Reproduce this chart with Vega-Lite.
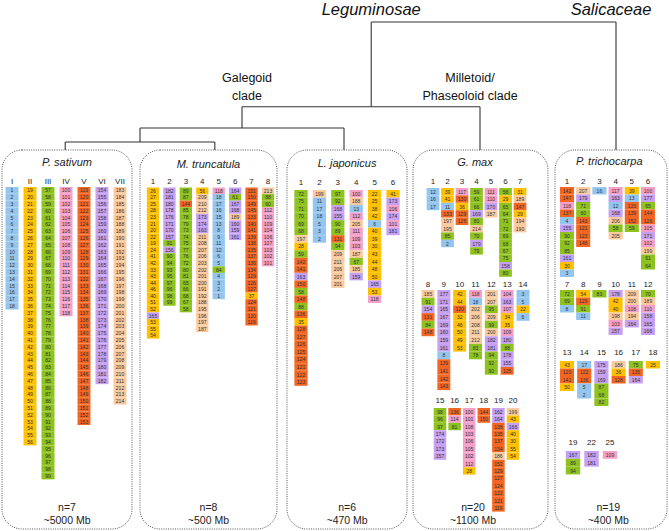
{
"$schema":"https://vega.github.io/schema/vega-lite/v6.json",
"width":669,"height":531,"autosize":{"type":"none"},"padding":0,
"background":"white",
"config":{"view":{"stroke":null},"text":{"font":"Liberation Sans","color":"#222"}},
"datasets":{
"tree":[
{"x":3.2,"x2":5,"h":16,"h2":16},{"x":3.2,"x2":3.2,"h":16,"h2":5.4},{"x":5,"x2":5,"h":16,"h2":0},
{"x":2.25,"x2":4,"h":5.4,"h2":5.4},{"x":4,"x2":4,"h":5.4,"h2":0},{"x":2.25,"x2":2.25,"h":5.4,"h2":2.75},
{"x":1.5,"x2":3,"h":2.75,"h2":2.75},{"x":3,"x2":3,"h":2.75,"h2":0},{"x":1.5,"x2":1.5,"h":2.75,"h2":1},
{"x":0.95,"x2":2.05,"h":1,"h2":1},{"x":0.95,"x2":0.95,"h":1,"h2":0},{"x":2.05,"x2":2.05,"h":1,"h2":0}],
"treeLabels":[
{"label":"Leguminosae","x":3.2,"h":16},{"label":"Salicaceae","x":5,"h":16},
{"label":"Galegoid\nclade","x":2.25,"h":5.4},{"label":"Milletoid/\nPhaseoloid clade","x":4,"h":5.4}],
"cells":[
{"sp":"Ps","chr":"I","pos":1,"blk":1},{"sp":"Ps","chr":"I","pos":2,"blk":2},{"sp":"Ps","chr":"I","pos":3,"blk":3},{"sp":"Ps","chr":"I","pos":4,"blk":4},{"sp":"Ps","chr":"I","pos":5,"blk":5},{"sp":"Ps","chr":"I","pos":6,"blk":6},{"sp":"Ps","chr":"I","pos":7,"blk":7},{"sp":"Ps","chr":"I","pos":8,"blk":8},{"sp":"Ps","chr":"I","pos":9,"blk":9},{"sp":"Ps","chr":"I","pos":10,"blk":10},{"sp":"Ps","chr":"I","pos":11,"blk":11},{"sp":"Ps","chr":"I","pos":12,"blk":12},{"sp":"Ps","chr":"I","pos":13,"blk":13},{"sp":"Ps","chr":"I","pos":14,"blk":14},{"sp":"Ps","chr":"I","pos":15,"blk":15},{"sp":"Ps","chr":"I","pos":16,"blk":16},{"sp":"Ps","chr":"I","pos":17,"blk":17},{"sp":"Ps","chr":"I","pos":18,"blk":18},
{"sp":"Ps","chr":"II","pos":1,"blk":19},{"sp":"Ps","chr":"II","pos":2,"blk":20},{"sp":"Ps","chr":"II","pos":3,"blk":21},{"sp":"Ps","chr":"II","pos":4,"blk":22},{"sp":"Ps","chr":"II","pos":5,"blk":23},{"sp":"Ps","chr":"II","pos":6,"blk":24},{"sp":"Ps","chr":"II","pos":7,"blk":25},{"sp":"Ps","chr":"II","pos":8,"blk":26},{"sp":"Ps","chr":"II","pos":9,"blk":27},{"sp":"Ps","chr":"II","pos":10,"blk":28},{"sp":"Ps","chr":"II","pos":11,"blk":29},{"sp":"Ps","chr":"II","pos":12,"blk":30},{"sp":"Ps","chr":"II","pos":13,"blk":31},{"sp":"Ps","chr":"II","pos":14,"blk":32},{"sp":"Ps","chr":"II","pos":15,"blk":33},{"sp":"Ps","chr":"II","pos":16,"blk":34},{"sp":"Ps","chr":"II","pos":17,"blk":35},{"sp":"Ps","chr":"II","pos":18,"blk":36},{"sp":"Ps","chr":"II","pos":19,"blk":37},{"sp":"Ps","chr":"II","pos":20,"blk":38},{"sp":"Ps","chr":"II","pos":21,"blk":39},{"sp":"Ps","chr":"II","pos":22,"blk":40},{"sp":"Ps","chr":"II","pos":23,"blk":41},{"sp":"Ps","chr":"II","pos":24,"blk":42},{"sp":"Ps","chr":"II","pos":25,"blk":43},{"sp":"Ps","chr":"II","pos":26,"blk":44},{"sp":"Ps","chr":"II","pos":27,"blk":45},{"sp":"Ps","chr":"II","pos":28,"blk":46},{"sp":"Ps","chr":"II","pos":29,"blk":47},{"sp":"Ps","chr":"II","pos":30,"blk":48},{"sp":"Ps","chr":"II","pos":31,"blk":49},{"sp":"Ps","chr":"II","pos":32,"blk":50},{"sp":"Ps","chr":"II","pos":33,"blk":51},{"sp":"Ps","chr":"II","pos":34,"blk":52},{"sp":"Ps","chr":"II","pos":35,"blk":53},{"sp":"Ps","chr":"II","pos":36,"blk":54},{"sp":"Ps","chr":"II","pos":37,"blk":55},{"sp":"Ps","chr":"II","pos":38,"blk":56},
{"sp":"Ps","chr":"III","pos":1,"blk":57},{"sp":"Ps","chr":"III","pos":2,"blk":58},{"sp":"Ps","chr":"III","pos":3,"blk":59},{"sp":"Ps","chr":"III","pos":4,"blk":60},{"sp":"Ps","chr":"III","pos":5,"blk":61},{"sp":"Ps","chr":"III","pos":6,"blk":62},{"sp":"Ps","chr":"III","pos":7,"blk":63},{"sp":"Ps","chr":"III","pos":8,"blk":64},{"sp":"Ps","chr":"III","pos":9,"blk":65},{"sp":"Ps","chr":"III","pos":10,"blk":66},{"sp":"Ps","chr":"III","pos":11,"blk":67},{"sp":"Ps","chr":"III","pos":12,"blk":68},{"sp":"Ps","chr":"III","pos":13,"blk":69},{"sp":"Ps","chr":"III","pos":14,"blk":70},{"sp":"Ps","chr":"III","pos":15,"blk":71},{"sp":"Ps","chr":"III","pos":16,"blk":72},{"sp":"Ps","chr":"III","pos":17,"blk":73},{"sp":"Ps","chr":"III","pos":18,"blk":74},{"sp":"Ps","chr":"III","pos":19,"blk":75},{"sp":"Ps","chr":"III","pos":20,"blk":76},{"sp":"Ps","chr":"III","pos":21,"blk":77},{"sp":"Ps","chr":"III","pos":22,"blk":78},{"sp":"Ps","chr":"III","pos":23,"blk":79},{"sp":"Ps","chr":"III","pos":24,"blk":80},{"sp":"Ps","chr":"III","pos":25,"blk":81},{"sp":"Ps","chr":"III","pos":26,"blk":82},{"sp":"Ps","chr":"III","pos":27,"blk":83},{"sp":"Ps","chr":"III","pos":28,"blk":84},{"sp":"Ps","chr":"III","pos":29,"blk":85},{"sp":"Ps","chr":"III","pos":30,"blk":86},{"sp":"Ps","chr":"III","pos":31,"blk":87},{"sp":"Ps","chr":"III","pos":32,"blk":88},{"sp":"Ps","chr":"III","pos":33,"blk":89},{"sp":"Ps","chr":"III","pos":34,"blk":90},{"sp":"Ps","chr":"III","pos":35,"blk":91},{"sp":"Ps","chr":"III","pos":36,"blk":92},{"sp":"Ps","chr":"III","pos":37,"blk":93},{"sp":"Ps","chr":"III","pos":38,"blk":94},{"sp":"Ps","chr":"III","pos":39,"blk":95},{"sp":"Ps","chr":"III","pos":40,"blk":96},{"sp":"Ps","chr":"III","pos":41,"blk":97},{"sp":"Ps","chr":"III","pos":42,"blk":98},{"sp":"Ps","chr":"III","pos":43,"blk":99},
{"sp":"Ps","chr":"IV","pos":1,"blk":100},{"sp":"Ps","chr":"IV","pos":2,"blk":101},{"sp":"Ps","chr":"IV","pos":3,"blk":102},{"sp":"Ps","chr":"IV","pos":4,"blk":103},{"sp":"Ps","chr":"IV","pos":5,"blk":104},{"sp":"Ps","chr":"IV","pos":6,"blk":105},{"sp":"Ps","chr":"IV","pos":7,"blk":106},{"sp":"Ps","chr":"IV","pos":8,"blk":107},{"sp":"Ps","chr":"IV","pos":9,"blk":108},{"sp":"Ps","chr":"IV","pos":10,"blk":109},{"sp":"Ps","chr":"IV","pos":11,"blk":110},{"sp":"Ps","chr":"IV","pos":12,"blk":111},{"sp":"Ps","chr":"IV","pos":13,"blk":112},{"sp":"Ps","chr":"IV","pos":14,"blk":113},{"sp":"Ps","chr":"IV","pos":15,"blk":114},{"sp":"Ps","chr":"IV","pos":16,"blk":115},{"sp":"Ps","chr":"IV","pos":17,"blk":116},{"sp":"Ps","chr":"IV","pos":18,"blk":117},{"sp":"Ps","chr":"IV","pos":19,"blk":118},
{"sp":"Ps","chr":"V","pos":1,"blk":119},{"sp":"Ps","chr":"V","pos":2,"blk":120},{"sp":"Ps","chr":"V","pos":3,"blk":121},{"sp":"Ps","chr":"V","pos":4,"blk":122},{"sp":"Ps","chr":"V","pos":5,"blk":123},{"sp":"Ps","chr":"V","pos":6,"blk":124},{"sp":"Ps","chr":"V","pos":7,"blk":125},{"sp":"Ps","chr":"V","pos":8,"blk":126},{"sp":"Ps","chr":"V","pos":9,"blk":127},{"sp":"Ps","chr":"V","pos":10,"blk":128},{"sp":"Ps","chr":"V","pos":11,"blk":129},{"sp":"Ps","chr":"V","pos":12,"blk":130},{"sp":"Ps","chr":"V","pos":13,"blk":131},{"sp":"Ps","chr":"V","pos":14,"blk":132},{"sp":"Ps","chr":"V","pos":15,"blk":133},{"sp":"Ps","chr":"V","pos":16,"blk":134},{"sp":"Ps","chr":"V","pos":17,"blk":135},{"sp":"Ps","chr":"V","pos":18,"blk":136},{"sp":"Ps","chr":"V","pos":19,"blk":137},{"sp":"Ps","chr":"V","pos":20,"blk":138},{"sp":"Ps","chr":"V","pos":21,"blk":139},{"sp":"Ps","chr":"V","pos":22,"blk":140},{"sp":"Ps","chr":"V","pos":23,"blk":141},{"sp":"Ps","chr":"V","pos":24,"blk":142},{"sp":"Ps","chr":"V","pos":25,"blk":143},{"sp":"Ps","chr":"V","pos":26,"blk":144},{"sp":"Ps","chr":"V","pos":27,"blk":145},{"sp":"Ps","chr":"V","pos":28,"blk":146},{"sp":"Ps","chr":"V","pos":29,"blk":147},{"sp":"Ps","chr":"V","pos":30,"blk":148},{"sp":"Ps","chr":"V","pos":31,"blk":149},{"sp":"Ps","chr":"V","pos":32,"blk":150},{"sp":"Ps","chr":"V","pos":33,"blk":151},{"sp":"Ps","chr":"V","pos":34,"blk":152},{"sp":"Ps","chr":"V","pos":35,"blk":153},
{"sp":"Ps","chr":"VI","pos":1,"blk":154},{"sp":"Ps","chr":"VI","pos":2,"blk":155},{"sp":"Ps","chr":"VI","pos":3,"blk":156},{"sp":"Ps","chr":"VI","pos":4,"blk":157},{"sp":"Ps","chr":"VI","pos":5,"blk":158},{"sp":"Ps","chr":"VI","pos":6,"blk":159},{"sp":"Ps","chr":"VI","pos":7,"blk":160},{"sp":"Ps","chr":"VI","pos":8,"blk":161},{"sp":"Ps","chr":"VI","pos":9,"blk":162},{"sp":"Ps","chr":"VI","pos":10,"blk":163},{"sp":"Ps","chr":"VI","pos":11,"blk":164},{"sp":"Ps","chr":"VI","pos":12,"blk":165},{"sp":"Ps","chr":"VI","pos":13,"blk":166},{"sp":"Ps","chr":"VI","pos":14,"blk":167},{"sp":"Ps","chr":"VI","pos":15,"blk":168},{"sp":"Ps","chr":"VI","pos":16,"blk":169},{"sp":"Ps","chr":"VI","pos":17,"blk":170},{"sp":"Ps","chr":"VI","pos":18,"blk":171},{"sp":"Ps","chr":"VI","pos":19,"blk":172},{"sp":"Ps","chr":"VI","pos":20,"blk":173},{"sp":"Ps","chr":"VI","pos":21,"blk":174},{"sp":"Ps","chr":"VI","pos":22,"blk":175},{"sp":"Ps","chr":"VI","pos":23,"blk":176},{"sp":"Ps","chr":"VI","pos":24,"blk":177},{"sp":"Ps","chr":"VI","pos":25,"blk":178},{"sp":"Ps","chr":"VI","pos":26,"blk":179},{"sp":"Ps","chr":"VI","pos":27,"blk":180},{"sp":"Ps","chr":"VI","pos":28,"blk":181},{"sp":"Ps","chr":"VI","pos":29,"blk":182},
{"sp":"Ps","chr":"VII","pos":1,"blk":183},{"sp":"Ps","chr":"VII","pos":2,"blk":184},{"sp":"Ps","chr":"VII","pos":3,"blk":185},{"sp":"Ps","chr":"VII","pos":4,"blk":186},{"sp":"Ps","chr":"VII","pos":5,"blk":187},{"sp":"Ps","chr":"VII","pos":6,"blk":188},{"sp":"Ps","chr":"VII","pos":7,"blk":189},{"sp":"Ps","chr":"VII","pos":8,"blk":190},{"sp":"Ps","chr":"VII","pos":9,"blk":191},{"sp":"Ps","chr":"VII","pos":10,"blk":192},{"sp":"Ps","chr":"VII","pos":11,"blk":193},{"sp":"Ps","chr":"VII","pos":12,"blk":194},{"sp":"Ps","chr":"VII","pos":13,"blk":195},{"sp":"Ps","chr":"VII","pos":14,"blk":196},{"sp":"Ps","chr":"VII","pos":15,"blk":197},{"sp":"Ps","chr":"VII","pos":16,"blk":198},{"sp":"Ps","chr":"VII","pos":17,"blk":199},{"sp":"Ps","chr":"VII","pos":18,"blk":200},{"sp":"Ps","chr":"VII","pos":19,"blk":201},{"sp":"Ps","chr":"VII","pos":20,"blk":202},{"sp":"Ps","chr":"VII","pos":21,"blk":203},{"sp":"Ps","chr":"VII","pos":22,"blk":204},{"sp":"Ps","chr":"VII","pos":23,"blk":205},{"sp":"Ps","chr":"VII","pos":24,"blk":206},{"sp":"Ps","chr":"VII","pos":25,"blk":207},{"sp":"Ps","chr":"VII","pos":26,"blk":208},{"sp":"Ps","chr":"VII","pos":27,"blk":209},{"sp":"Ps","chr":"VII","pos":28,"blk":210},{"sp":"Ps","chr":"VII","pos":29,"blk":211},{"sp":"Ps","chr":"VII","pos":30,"blk":212},{"sp":"Ps","chr":"VII","pos":31,"blk":213},{"sp":"Ps","chr":"VII","pos":32,"blk":214},
{"sp":"Mt","chr":"1","pos":1,"blk":26},{"sp":"Mt","chr":"1","pos":2,"blk":27},{"sp":"Mt","chr":"1","pos":3,"blk":25},{"sp":"Mt","chr":"1","pos":4,"blk":28},{"sp":"Mt","chr":"1","pos":5,"blk":23},{"sp":"Mt","chr":"1","pos":6,"blk":21},{"sp":"Mt","chr":"1","pos":7,"blk":20},{"sp":"Mt","chr":"1","pos":8,"blk":22},{"sp":"Mt","chr":"1","pos":9,"blk":19},{"sp":"Mt","chr":"1","pos":10,"blk":24},{"sp":"Mt","chr":"1","pos":11,"blk":41},{"sp":"Mt","chr":"1","pos":12,"blk":42},{"sp":"Mt","chr":"1","pos":13,"blk":33},{"sp":"Mt","chr":"1","pos":14,"blk":43},{"sp":"Mt","chr":"1","pos":15,"blk":44},{"sp":"Mt","chr":"1","pos":16,"blk":46},{"sp":"Mt","chr":"1","pos":17,"blk":40},{"sp":"Mt","chr":"1","pos":18,"blk":51},{"sp":"Mt","chr":"1","pos":19,"blk":52},{"sp":"Mt","chr":"1","pos":20,"blk":165},{"sp":"Mt","chr":"1","pos":21,"blk":53},{"sp":"Mt","chr":"1","pos":22,"blk":55},{"sp":"Mt","chr":"1","pos":23,"blk":54},
{"sp":"Mt","chr":"2","pos":1,"blk":182},{"sp":"Mt","chr":"2","pos":2,"blk":181},{"sp":"Mt","chr":"2","pos":3,"blk":180},{"sp":"Mt","chr":"2","pos":4,"blk":178},{"sp":"Mt","chr":"2","pos":5,"blk":176},{"sp":"Mt","chr":"2","pos":6,"blk":171},{"sp":"Mt","chr":"2","pos":7,"blk":170},{"sp":"Mt","chr":"2","pos":8,"blk":157},{"sp":"Mt","chr":"2","pos":9,"blk":91},{"sp":"Mt","chr":"2","pos":10,"blk":156},{"sp":"Mt","chr":"2","pos":11,"blk":90},{"sp":"Mt","chr":"2","pos":12,"blk":94},{"sp":"Mt","chr":"2","pos":13,"blk":93},{"sp":"Mt","chr":"2","pos":14,"blk":95},{"sp":"Mt","chr":"2","pos":15,"blk":97},{"sp":"Mt","chr":"2","pos":16,"blk":96},{"sp":"Mt","chr":"2","pos":17,"blk":98},{"sp":"Mt","chr":"2","pos":18,"blk":99},
{"sp":"Mt","chr":"3","pos":1,"blk":89},{"sp":"Mt","chr":"3","pos":2,"blk":87},{"sp":"Mt","chr":"3","pos":3,"blk":144},{"sp":"Mt","chr":"3","pos":4,"blk":85},{"sp":"Mt","chr":"3","pos":5,"blk":78},{"sp":"Mt","chr":"3","pos":6,"blk":79},{"sp":"Mt","chr":"3","pos":7,"blk":73},{"sp":"Mt","chr":"3","pos":8,"blk":74},{"sp":"Mt","chr":"3","pos":9,"blk":75},{"sp":"Mt","chr":"3","pos":10,"blk":77},{"sp":"Mt","chr":"3","pos":11,"blk":76},{"sp":"Mt","chr":"3","pos":12,"blk":72},{"sp":"Mt","chr":"3","pos":13,"blk":80},{"sp":"Mt","chr":"3","pos":14,"blk":81},{"sp":"Mt","chr":"3","pos":15,"blk":65},{"sp":"Mt","chr":"3","pos":16,"blk":66},{"sp":"Mt","chr":"3","pos":17,"blk":68},{"sp":"Mt","chr":"3","pos":18,"blk":67},{"sp":"Mt","chr":"3","pos":19,"blk":58},
{"sp":"Mt","chr":"4","pos":1,"blk":56},{"sp":"Mt","chr":"4","pos":2,"blk":209},{"sp":"Mt","chr":"4","pos":3,"blk":210},{"sp":"Mt","chr":"4","pos":4,"blk":212},{"sp":"Mt","chr":"4","pos":5,"blk":173},{"sp":"Mt","chr":"4","pos":6,"blk":174},{"sp":"Mt","chr":"4","pos":7,"blk":163},{"sp":"Mt","chr":"4","pos":8,"blk":211},{"sp":"Mt","chr":"4","pos":9,"blk":208},{"sp":"Mt","chr":"4","pos":10,"blk":207},{"sp":"Mt","chr":"4","pos":11,"blk":206},{"sp":"Mt","chr":"4","pos":12,"blk":203},{"sp":"Mt","chr":"4","pos":13,"blk":202},{"sp":"Mt","chr":"4","pos":14,"blk":201},{"sp":"Mt","chr":"4","pos":15,"blk":200},{"sp":"Mt","chr":"4","pos":16,"blk":191},{"sp":"Mt","chr":"4","pos":17,"blk":192},{"sp":"Mt","chr":"4","pos":18,"blk":188},{"sp":"Mt","chr":"4","pos":19,"blk":195},{"sp":"Mt","chr":"4","pos":20,"blk":196},{"sp":"Mt","chr":"4","pos":21,"blk":197},{"sp":"Mt","chr":"4","pos":22,"blk":187},
{"sp":"Mt","chr":"5","pos":1,"blk":118},{"sp":"Mt","chr":"5","pos":2,"blk":18},{"sp":"Mt","chr":"5","pos":3,"blk":17},{"sp":"Mt","chr":"5","pos":4,"blk":16},{"sp":"Mt","chr":"5","pos":5,"blk":15},{"sp":"Mt","chr":"5","pos":6,"blk":13},{"sp":"Mt","chr":"5","pos":7,"blk":8},{"sp":"Mt","chr":"5","pos":8,"blk":9},{"sp":"Mt","chr":"5","pos":9,"blk":11},{"sp":"Mt","chr":"5","pos":10,"blk":12},{"sp":"Mt","chr":"5","pos":11,"blk":6},{"sp":"Mt","chr":"5","pos":12,"blk":5},{"sp":"Mt","chr":"5","pos":13,"blk":84},{"sp":"Mt","chr":"5","pos":14,"blk":4},{"sp":"Mt","chr":"5","pos":15,"blk":3},{"sp":"Mt","chr":"5","pos":16,"blk":2},{"sp":"Mt","chr":"5","pos":17,"blk":1},
{"sp":"Mt","chr":"6","pos":1,"blk":164},{"sp":"Mt","chr":"6","pos":2,"blk":61},{"sp":"Mt","chr":"6","pos":3,"blk":167},{"sp":"Mt","chr":"6","pos":4,"blk":168},{"sp":"Mt","chr":"6","pos":5,"blk":189},{"sp":"Mt","chr":"6","pos":6,"blk":160},{"sp":"Mt","chr":"6","pos":7,"blk":159},{"sp":"Mt","chr":"6","pos":8,"blk":161},
{"sp":"Mt","chr":"7","pos":1,"blk":151},{"sp":"Mt","chr":"7","pos":2,"blk":150},{"sp":"Mt","chr":"7","pos":3,"blk":149},{"sp":"Mt","chr":"7","pos":4,"blk":145},{"sp":"Mt","chr":"7","pos":5,"blk":133},{"sp":"Mt","chr":"7","pos":6,"blk":140},{"sp":"Mt","chr":"7","pos":7,"blk":141},{"sp":"Mt","chr":"7","pos":8,"blk":139},{"sp":"Mt","chr":"7","pos":9,"blk":138},{"sp":"Mt","chr":"7","pos":10,"blk":135},{"sp":"Mt","chr":"7","pos":11,"blk":137},{"sp":"Mt","chr":"7","pos":12,"blk":136},{"sp":"Mt","chr":"7","pos":13,"blk":134},{"sp":"Mt","chr":"7","pos":14,"blk":129},{"sp":"Mt","chr":"7","pos":15,"blk":126},{"sp":"Mt","chr":"7","pos":16,"blk":127},{"sp":"Mt","chr":"7","pos":17,"blk":37},{"sp":"Mt","chr":"7","pos":18,"blk":124},{"sp":"Mt","chr":"7","pos":19,"blk":121},{"sp":"Mt","chr":"7","pos":20,"blk":120},{"sp":"Mt","chr":"7","pos":21,"blk":119},
{"sp":"Mt","chr":"8","pos":1,"blk":213},{"sp":"Mt","chr":"8","pos":2,"blk":88},{"sp":"Mt","chr":"8","pos":3,"blk":60},{"sp":"Mt","chr":"8","pos":4,"blk":112},{"sp":"Mt","chr":"8","pos":5,"blk":110},{"sp":"Mt","chr":"8","pos":6,"blk":109},{"sp":"Mt","chr":"8","pos":7,"blk":104},{"sp":"Mt","chr":"8","pos":8,"blk":106},{"sp":"Mt","chr":"8","pos":9,"blk":107},{"sp":"Mt","chr":"8","pos":10,"blk":103},{"sp":"Mt","chr":"8","pos":11,"blk":102},{"sp":"Mt","chr":"8","pos":12,"blk":101},
{"sp":"Lj","chr":"1","pos":1,"blk":72},{"sp":"Lj","chr":"1","pos":2,"blk":75},{"sp":"Lj","chr":"1","pos":3,"blk":71},{"sp":"Lj","chr":"1","pos":4,"blk":70},{"sp":"Lj","chr":"1","pos":5,"blk":69},{"sp":"Lj","chr":"1","pos":6,"blk":68},{"sp":"Lj","chr":"1","pos":7,"blk":197},{"sp":"Lj","chr":"1","pos":8,"blk":28},{"sp":"Lj","chr":"1","pos":9,"blk":59},{"sp":"Lj","chr":"1","pos":10,"blk":142},{"sp":"Lj","chr":"1","pos":11,"blk":141},{"sp":"Lj","chr":"1","pos":12,"blk":163},{"sp":"Lj","chr":"1","pos":13,"blk":150},{"sp":"Lj","chr":"1","pos":14,"blk":58},{"sp":"Lj","chr":"1","pos":15,"blk":148},{"sp":"Lj","chr":"1","pos":16,"blk":88},{"sp":"Lj","chr":"1","pos":17,"blk":136},{"sp":"Lj","chr":"1","pos":18,"blk":35},{"sp":"Lj","chr":"1","pos":19,"blk":128},{"sp":"Lj","chr":"1","pos":20,"blk":127},{"sp":"Lj","chr":"1","pos":21,"blk":126},{"sp":"Lj","chr":"1","pos":22,"blk":125},{"sp":"Lj","chr":"1","pos":23,"blk":124},{"sp":"Lj","chr":"1","pos":24,"blk":121},{"sp":"Lj","chr":"1","pos":25,"blk":122},{"sp":"Lj","chr":"1","pos":26,"blk":123},
{"sp":"Lj","chr":"2","pos":1,"blk":199},{"sp":"Lj","chr":"2","pos":2,"blk":11},{"sp":"Lj","chr":"2","pos":3,"blk":17},{"sp":"Lj","chr":"2","pos":4,"blk":18},{"sp":"Lj","chr":"2","pos":5,"blk":5},{"sp":"Lj","chr":"2","pos":6,"blk":3},{"sp":"Lj","chr":"2","pos":7,"blk":2},
{"sp":"Lj","chr":"3","pos":1,"blk":97},{"sp":"Lj","chr":"3","pos":2,"blk":92},{"sp":"Lj","chr":"3","pos":3,"blk":168},{"sp":"Lj","chr":"3","pos":4,"blk":155},{"sp":"Lj","chr":"3","pos":5,"blk":90},{"sp":"Lj","chr":"3","pos":6,"blk":89},{"sp":"Lj","chr":"3","pos":7,"blk":131},{"sp":"Lj","chr":"3","pos":8,"blk":94},{"sp":"Lj","chr":"3","pos":9,"blk":209},{"sp":"Lj","chr":"3","pos":10,"blk":211},{"sp":"Lj","chr":"3","pos":11,"blk":206},{"sp":"Lj","chr":"3","pos":12,"blk":207},{"sp":"Lj","chr":"3","pos":13,"blk":201},
{"sp":"Lj","chr":"4","pos":1,"blk":100},{"sp":"Lj","chr":"4","pos":2,"blk":188},{"sp":"Lj","chr":"4","pos":3,"blk":13},{"sp":"Lj","chr":"4","pos":4,"blk":112},{"sp":"Lj","chr":"4","pos":5,"blk":205},{"sp":"Lj","chr":"4","pos":6,"blk":111},{"sp":"Lj","chr":"4","pos":7,"blk":109},{"sp":"Lj","chr":"4","pos":8,"blk":103},{"sp":"Lj","chr":"4","pos":9,"blk":187},{"sp":"Lj","chr":"4","pos":10,"blk":67},{"sp":"Lj","chr":"4","pos":11,"blk":185},{"sp":"Lj","chr":"4","pos":12,"blk":159},
{"sp":"Lj","chr":"5","pos":1,"blk":22},{"sp":"Lj","chr":"5","pos":2,"blk":25},{"sp":"Lj","chr":"5","pos":3,"blk":38},{"sp":"Lj","chr":"5","pos":4,"blk":42},{"sp":"Lj","chr":"5","pos":5,"blk":6},{"sp":"Lj","chr":"5","pos":6,"blk":40},{"sp":"Lj","chr":"5","pos":7,"blk":39},{"sp":"Lj","chr":"5","pos":8,"blk":30},{"sp":"Lj","chr":"5","pos":9,"blk":43},{"sp":"Lj","chr":"5","pos":10,"blk":44},{"sp":"Lj","chr":"5","pos":11,"blk":48},{"sp":"Lj","chr":"5","pos":12,"blk":50},{"sp":"Lj","chr":"5","pos":13,"blk":165},{"sp":"Lj","chr":"5","pos":14,"blk":53},{"sp":"Lj","chr":"5","pos":15,"blk":118},
{"sp":"Lj","chr":"6","pos":1,"blk":41},{"sp":"Lj","chr":"6","pos":2,"blk":173},{"sp":"Lj","chr":"6","pos":3,"blk":106},{"sp":"Lj","chr":"6","pos":4,"blk":174},{"sp":"Lj","chr":"6","pos":5,"blk":101},{"sp":"Lj","chr":"6","pos":6,"blk":181},
{"sp":"Gm","chr":"1","pos":1,"blk":12},{"sp":"Gm","chr":"1","pos":2,"blk":16},{"sp":"Gm","chr":"1","pos":3,"blk":17},
{"sp":"Gm","chr":"2","pos":1,"blk":39},{"sp":"Gm","chr":"2","pos":2,"blk":41},{"sp":"Gm","chr":"2","pos":3,"blk":11},{"sp":"Gm","chr":"2","pos":4,"blk":133},{"sp":"Gm","chr":"2","pos":5,"blk":197},{"sp":"Gm","chr":"2","pos":6,"blk":195},{"sp":"Gm","chr":"2","pos":7,"blk":85},{"sp":"Gm","chr":"2","pos":8,"blk":2},
{"sp":"Gm","chr":"3","pos":1,"blk":117},{"sp":"Gm","chr":"3","pos":2,"blk":130},{"sp":"Gm","chr":"3","pos":3,"blk":36},{"sp":"Gm","chr":"3","pos":4,"blk":129},{"sp":"Gm","chr":"3","pos":5,"blk":126},
{"sp":"Gm","chr":"4","pos":1,"blk":59},{"sp":"Gm","chr":"4","pos":2,"blk":61},{"sp":"Gm","chr":"4","pos":3,"blk":66},{"sp":"Gm","chr":"4","pos":4,"blk":169},{"sp":"Gm","chr":"4","pos":5,"blk":80},{"sp":"Gm","chr":"4","pos":6,"blk":214},{"sp":"Gm","chr":"4","pos":7,"blk":70},{"sp":"Gm","chr":"4","pos":8,"blk":179},{"sp":"Gm","chr":"4","pos":9,"blk":79},
{"sp":"Gm","chr":"5","pos":1,"blk":111},{"sp":"Gm","chr":"5","pos":2,"blk":110},{"sp":"Gm","chr":"5","pos":3,"blk":170},{"sp":"Gm","chr":"5","pos":4,"blk":187},
{"sp":"Gm","chr":"6","pos":1,"blk":58},{"sp":"Gm","chr":"6","pos":2,"blk":29},{"sp":"Gm","chr":"6","pos":3,"blk":65},{"sp":"Gm","chr":"6","pos":4,"blk":64},{"sp":"Gm","chr":"6","pos":5,"blk":71},{"sp":"Gm","chr":"6","pos":6,"blk":72},{"sp":"Gm","chr":"6","pos":7,"blk":69},{"sp":"Gm","chr":"6","pos":8,"blk":68},{"sp":"Gm","chr":"6","pos":9,"blk":67},{"sp":"Gm","chr":"6","pos":10,"blk":75},{"sp":"Gm","chr":"6","pos":11,"blk":158},{"sp":"Gm","chr":"6","pos":12,"blk":80},
{"sp":"Gm","chr":"7","pos":1,"blk":31},{"sp":"Gm","chr":"7","pos":2,"blk":189},{"sp":"Gm","chr":"7","pos":3,"blk":147},{"sp":"Gm","chr":"7","pos":4,"blk":29},{"sp":"Gm","chr":"7","pos":5,"blk":194},{"sp":"Gm","chr":"7","pos":6,"blk":190},
{"sp":"Gm","chr":"8","pos":1,"blk":185},{"sp":"Gm","chr":"8","pos":2,"blk":91},{"sp":"Gm","chr":"8","pos":3,"blk":154},{"sp":"Gm","chr":"8","pos":4,"blk":131},{"sp":"Gm","chr":"8","pos":5,"blk":84},{"sp":"Gm","chr":"8","pos":6,"blk":148},
{"sp":"Gm","chr":"9","pos":1,"blk":177},{"sp":"Gm","chr":"9","pos":2,"blk":171},{"sp":"Gm","chr":"9","pos":3,"blk":165},{"sp":"Gm","chr":"9","pos":4,"blk":167},{"sp":"Gm","chr":"9","pos":5,"blk":169},{"sp":"Gm","chr":"9","pos":6,"blk":160},{"sp":"Gm","chr":"9","pos":7,"blk":159},{"sp":"Gm","chr":"9","pos":8,"blk":161},{"sp":"Gm","chr":"9","pos":9,"blk":8},{"sp":"Gm","chr":"9","pos":10,"blk":139},{"sp":"Gm","chr":"9","pos":11,"blk":141},{"sp":"Gm","chr":"9","pos":12,"blk":142},{"sp":"Gm","chr":"9","pos":13,"blk":143},
{"sp":"Gm","chr":"10","pos":1,"blk":42},{"sp":"Gm","chr":"10","pos":2,"blk":44},{"sp":"Gm","chr":"10","pos":3,"blk":120},{"sp":"Gm","chr":"10","pos":4,"blk":32},{"sp":"Gm","chr":"10","pos":5,"blk":46},{"sp":"Gm","chr":"10","pos":6,"blk":50},{"sp":"Gm","chr":"10","pos":7,"blk":49},{"sp":"Gm","chr":"10","pos":8,"blk":53},
{"sp":"Gm","chr":"11","pos":1,"blk":118},{"sp":"Gm","chr":"11","pos":2,"blk":18},{"sp":"Gm","chr":"11","pos":3,"blk":202},{"sp":"Gm","chr":"11","pos":4,"blk":206},{"sp":"Gm","chr":"11","pos":5,"blk":208},{"sp":"Gm","chr":"11","pos":6,"blk":211},{"sp":"Gm","chr":"11","pos":7,"blk":212},{"sp":"Gm","chr":"11","pos":8,"blk":83},{"sp":"Gm","chr":"11","pos":9,"blk":78},
{"sp":"Gm","chr":"12","pos":1,"blk":201},{"sp":"Gm","chr":"12","pos":2,"blk":207},{"sp":"Gm","chr":"12","pos":3,"blk":95},{"sp":"Gm","chr":"12","pos":4,"blk":209},{"sp":"Gm","chr":"12","pos":5,"blk":99},{"sp":"Gm","chr":"12","pos":6,"blk":200},{"sp":"Gm","chr":"12","pos":7,"blk":182},{"sp":"Gm","chr":"12","pos":8,"blk":181},{"sp":"Gm","chr":"12","pos":9,"blk":94},{"sp":"Gm","chr":"12","pos":10,"blk":92},{"sp":"Gm","chr":"12","pos":11,"blk":90},
{"sp":"Gm","chr":"13","pos":1,"blk":104},{"sp":"Gm","chr":"13","pos":2,"blk":163},{"sp":"Gm","chr":"13","pos":3,"blk":107},{"sp":"Gm","chr":"13","pos":4,"blk":34},{"sp":"Gm","chr":"13","pos":5,"blk":35},{"sp":"Gm","chr":"13","pos":6,"blk":109},{"sp":"Gm","chr":"13","pos":7,"blk":180},{"sp":"Gm","chr":"13","pos":8,"blk":88},{"sp":"Gm","chr":"13","pos":9,"blk":178},{"sp":"Gm","chr":"13","pos":10,"blk":155},{"sp":"Gm","chr":"13","pos":11,"blk":125},
{"sp":"Gm","chr":"14","pos":1,"blk":3},{"sp":"Gm","chr":"14","pos":2,"blk":5},{"sp":"Gm","chr":"14","pos":3,"blk":22},{"sp":"Gm","chr":"14","pos":4,"blk":6},
{"sp":"Gm","chr":"15","pos":1,"blk":98},{"sp":"Gm","chr":"15","pos":2,"blk":96},{"sp":"Gm","chr":"15","pos":3,"blk":97},{"sp":"Gm","chr":"15","pos":4,"blk":174},{"sp":"Gm","chr":"15","pos":5,"blk":172},{"sp":"Gm","chr":"15","pos":6,"blk":173},{"sp":"Gm","chr":"15","pos":7,"blk":157},
{"sp":"Gm","chr":"16","pos":1,"blk":136},{"sp":"Gm","chr":"16","pos":2,"blk":114},{"sp":"Gm","chr":"16","pos":3,"blk":81},
{"sp":"Gm","chr":"17","pos":1,"blk":100},{"sp":"Gm","chr":"17","pos":2,"blk":101},{"sp":"Gm","chr":"17","pos":3,"blk":108},{"sp":"Gm","chr":"17","pos":4,"blk":103},{"sp":"Gm","chr":"17","pos":5,"blk":106},{"sp":"Gm","chr":"17","pos":6,"blk":105},{"sp":"Gm","chr":"17","pos":7,"blk":102},{"sp":"Gm","chr":"17","pos":8,"blk":112},{"sp":"Gm","chr":"17","pos":9,"blk":28},
{"sp":"Gm","chr":"18","pos":1,"blk":144},{"sp":"Gm","chr":"18","pos":2,"blk":150},
{"sp":"Gm","chr":"19","pos":1,"blk":162},{"sp":"Gm","chr":"19","pos":2,"blk":164},{"sp":"Gm","chr":"19","pos":3,"blk":138},{"sp":"Gm","chr":"19","pos":4,"blk":135},{"sp":"Gm","chr":"19","pos":5,"blk":137},{"sp":"Gm","chr":"19","pos":6,"blk":134},{"sp":"Gm","chr":"19","pos":7,"blk":186},{"sp":"Gm","chr":"19","pos":8,"blk":152},{"sp":"Gm","chr":"19","pos":9,"blk":129},{"sp":"Gm","chr":"19","pos":10,"blk":127},{"sp":"Gm","chr":"19","pos":11,"blk":124},{"sp":"Gm","chr":"19","pos":12,"blk":122},{"sp":"Gm","chr":"19","pos":13,"blk":121},{"sp":"Gm","chr":"19","pos":14,"blk":119},
{"sp":"Gm","chr":"20","pos":1,"blk":199},{"sp":"Gm","chr":"20","pos":2,"blk":43},{"sp":"Gm","chr":"20","pos":3,"blk":166},{"sp":"Gm","chr":"20","pos":4,"blk":40},{"sp":"Gm","chr":"20","pos":5,"blk":30},{"sp":"Gm","chr":"20","pos":6,"blk":55},{"sp":"Gm","chr":"20","pos":7,"blk":54},
{"sp":"Pt","chr":"1","pos":1,"blk":142},{"sp":"Pt","chr":"1","pos":2,"blk":147},{"sp":"Pt","chr":"1","pos":3,"blk":118},{"sp":"Pt","chr":"1","pos":4,"blk":137},{"sp":"Pt","chr":"1","pos":5,"blk":4},{"sp":"Pt","chr":"1","pos":6,"blk":155},{"sp":"Pt","chr":"1","pos":7,"blk":90},{"sp":"Pt","chr":"1","pos":8,"blk":92},{"sp":"Pt","chr":"1","pos":9,"blk":85},{"sp":"Pt","chr":"1","pos":10,"blk":161},{"sp":"Pt","chr":"1","pos":11,"blk":30},{"sp":"Pt","chr":"1","pos":12,"blk":3},
{"sp":"Pt","chr":"2","pos":1,"blk":207},{"sp":"Pt","chr":"2","pos":2,"blk":179},{"sp":"Pt","chr":"2","pos":3,"blk":71},{"sp":"Pt","chr":"2","pos":4,"blk":60},{"sp":"Pt","chr":"2","pos":5,"blk":143},{"sp":"Pt","chr":"2","pos":6,"blk":121},{"sp":"Pt","chr":"2","pos":7,"blk":123},{"sp":"Pt","chr":"2","pos":8,"blk":148},
{"sp":"Pt","chr":"3","pos":1,"blk":16},
{"sp":"Pt","chr":"4","pos":1,"blk":117},{"sp":"Pt","chr":"4","pos":2,"blk":163},{"sp":"Pt","chr":"4","pos":3,"blk":12},{"sp":"Pt","chr":"4","pos":4,"blk":168},{"sp":"Pt","chr":"4","pos":5,"blk":206},{"sp":"Pt","chr":"4","pos":6,"blk":58},{"sp":"Pt","chr":"4","pos":7,"blk":205},
{"sp":"Pt","chr":"5","pos":1,"blk":39},{"sp":"Pt","chr":"5","pos":2,"blk":13},{"sp":"Pt","chr":"5","pos":3,"blk":133},{"sp":"Pt","chr":"5","pos":4,"blk":139},{"sp":"Pt","chr":"5","pos":5,"blk":152},{"sp":"Pt","chr":"5","pos":6,"blk":59},
{"sp":"Pt","chr":"6","pos":1,"blk":100},{"sp":"Pt","chr":"6","pos":2,"blk":177},{"sp":"Pt","chr":"6","pos":3,"blk":65},{"sp":"Pt","chr":"6","pos":4,"blk":144},{"sp":"Pt","chr":"6","pos":5,"blk":126},{"sp":"Pt","chr":"6","pos":6,"blk":105},{"sp":"Pt","chr":"6","pos":7,"blk":171},{"sp":"Pt","chr":"6","pos":8,"blk":102},{"sp":"Pt","chr":"6","pos":9,"blk":199},{"sp":"Pt","chr":"6","pos":10,"blk":61},{"sp":"Pt","chr":"6","pos":11,"blk":64},
{"sp":"Pt","chr":"7","pos":1,"blk":72},{"sp":"Pt","chr":"7","pos":2,"blk":69},{"sp":"Pt","chr":"7","pos":3,"blk":8},
{"sp":"Pt","chr":"8","pos":1,"blk":54},{"sp":"Pt","chr":"8","pos":2,"blk":129},{"sp":"Pt","chr":"8","pos":3,"blk":91},{"sp":"Pt","chr":"8","pos":4,"blk":11},
{"sp":"Pt","chr":"9","pos":1,"blk":83},
{"sp":"Pt","chr":"10","pos":1,"blk":178},{"sp":"Pt","chr":"10","pos":2,"blk":42},{"sp":"Pt","chr":"10","pos":3,"blk":40},{"sp":"Pt","chr":"10","pos":4,"blk":198},{"sp":"Pt","chr":"10","pos":5,"blk":103},{"sp":"Pt","chr":"10","pos":6,"blk":157},
{"sp":"Pt","chr":"11","pos":1,"blk":209},{"sp":"Pt","chr":"11","pos":2,"blk":200},{"sp":"Pt","chr":"11","pos":3,"blk":108},{"sp":"Pt","chr":"11","pos":4,"blk":194},{"sp":"Pt","chr":"11","pos":5,"blk":164},
{"sp":"Pt","chr":"12","pos":1,"blk":70},{"sp":"Pt","chr":"12","pos":2,"blk":189},{"sp":"Pt","chr":"12","pos":3,"blk":110},{"sp":"Pt","chr":"12","pos":4,"blk":158},{"sp":"Pt","chr":"12","pos":5,"blk":165},{"sp":"Pt","chr":"12","pos":6,"blk":166},
{"sp":"Pt","chr":"13","pos":1,"blk":43},{"sp":"Pt","chr":"13","pos":2,"blk":120},{"sp":"Pt","chr":"13","pos":3,"blk":141},{"sp":"Pt","chr":"13","pos":4,"blk":50},
{"sp":"Pt","chr":"14","pos":1,"blk":17},{"sp":"Pt","chr":"14","pos":2,"blk":122},{"sp":"Pt","chr":"14","pos":3,"blk":136},{"sp":"Pt","chr":"14","pos":4,"blk":5},{"sp":"Pt","chr":"14","pos":5,"blk":2},
{"sp":"Pt","chr":"15","pos":1,"blk":175},{"sp":"Pt","chr":"15","pos":2,"blk":159},{"sp":"Pt","chr":"15","pos":3,"blk":169},{"sp":"Pt","chr":"15","pos":4,"blk":87},{"sp":"Pt","chr":"15","pos":5,"blk":68},{"sp":"Pt","chr":"15","pos":6,"blk":82},
{"sp":"Pt","chr":"16","pos":1,"blk":186},{"sp":"Pt","chr":"16","pos":2,"blk":36},{"sp":"Pt","chr":"16","pos":3,"blk":128},
{"sp":"Pt","chr":"17","pos":1,"blk":75},{"sp":"Pt","chr":"17","pos":2,"blk":135},{"sp":"Pt","chr":"17","pos":3,"blk":164},
{"sp":"Pt","chr":"18","pos":1,"blk":25},
{"sp":"Pt","chr":"19","pos":1,"blk":167},{"sp":"Pt","chr":"19","pos":2,"blk":89},{"sp":"Pt","chr":"19","pos":3,"blk":94},
{"sp":"Pt","chr":"22","pos":1,"blk":182},{"sp":"Pt","chr":"22","pos":2,"blk":181},
{"sp":"Pt","chr":"25","pos":1,"blk":109}
]},
"layer":[
{"data":{"name":"tree"},
 "encoding":{"x":{"field":"x","type":"quantitative","axis":null,"scale":{"domain":[1,5],"range":[72,616],"zero":false,"nice":false}},
  "y":{"field":"h","type":"quantitative","axis":null,"scale":{"domain":[0,16],"range":[150,22],"zero":false,"nice":false}}},
 "layer":[
  {"mark":{"type":"rule","color":"#333","strokeWidth":1.1},"encoding":{"x2":{"field":"x2"},"y2":{"field":"h2"}}},
  {"data":{"name":"treeLabels"},"transform":[{"filter":"datum.label==='Leguminosae'"}],"mark":{"type":"text","fontSize":16.5,"fontStyle":"italic","baseline":"alphabetic","dy":-7,"color":"#111"},"encoding":{"text":{"field":"label"}}},
  {"data":{"name":"treeLabels"},"transform":[{"filter":"datum.label==='Salicaceae'"}],"mark":{"type":"text","fontSize":16.5,"fontStyle":"italic","baseline":"alphabetic","dy":-7,"dx":-5,"color":"#111"},"encoding":{"text":{"field":"label"}}},
  {"data":{"name":"treeLabels"},"transform":[{"filter":"datum.label==='Galegoid\\nclade'"}],"mark":{"type":"text","fontSize":12.5,"lineBreak":"\n","lineHeight":18,"baseline":"alphabetic","dy":-25,"dx":5,"color":"#111"},"encoding":{"text":{"field":"label"}}},
  {"data":{"name":"treeLabels"},"transform":[{"filter":"indexof(datum.label,'Milletoid')===0"}],"mark":{"type":"text","fontSize":12.5,"lineBreak":"\n","lineHeight":18,"baseline":"alphabetic","dy":-25,"dx":-10,"color":"#111"},"encoding":{"text":{"field":"label"}}}
 ]},
{"data":{"name":"cells"},"transform":[{"filter":"datum.sp==='Ps'"}],
 "encoding":{"x":{"field":"chr","type":"nominal","axis":null,"scale":{"domain":["I","II","III","IV","V","VI","VII"],"range":[3,129],"paddingInner":0.28,"paddingOuter":0.14}},
  "y":{"field":"pos","type":"ordinal","axis":null,"scale":{"domain":[1,2,3,4,5,6,7,8,9,10,11,12,13,14,15,16,17,18,19,20,21,22,23,24,25,26,27,28,29,30,31,32,33,34,35,36,37,38,39,40,41,42,43],"range":[187,479.4],"paddingInner":0,"paddingOuter":0}}},
 "layer":[
  {"mark":{"type":"rect"},"encoding":{"color":{"field":"blk","type":"quantitative","legend":null,"scale":{"type":"threshold","domain":[19,57,100,119,154,183],"range":["#93C5EE","#FFC000","#8DC21F","#F5A0C8","#F26522","#C6A0F2","#FBCB9F"]}}}},
  {"mark":{"type":"text","fontSize":5,"color":"#333"},"encoding":{"text":{"field":"blk"}}},
  {"transform":[{"filter":"datum.pos===1"}],"mark":{"type":"text","fontSize":8,"baseline":"middle","dy":-8.7},"encoding":{"text":{"field":"chr"}}},
  {"transform":[{"aggregate":[{"op":"count","as":"k"}]}],"mark":{"type":"rect","fill":null,"stroke":"#555","strokeWidth":1,"strokeDash":[1,1.3],"cornerRadius":20,"xOffset":-3.5,"x2Offset":5.5,"yOffset":-37,"y2Offset":49.6},
   "encoding":{"x":{"datum":"I","type":"nominal","bandPosition":0},"x2":{"datum":"VII","bandPosition":1},"y":{"datum":1,"type":"ordinal","bandPosition":0},"y2":{"datum":43,"bandPosition":1}}},
  {"transform":[{"aggregate":[{"op":"count","as":"k"}]}],"mark":{"type":"text","text":"P. sativum","fontSize":11,"fontStyle":"italic","baseline":"middle","dx":1,"dy":-27.4},
   "encoding":{"x":{"datum":"IV","type":"nominal"},"y":{"datum":1,"type":"ordinal"}}},
  {"transform":[{"aggregate":[{"op":"count","as":"k"}]}],"mark":{"type":"text","text":["n=7","~5000 Mb"],"fontSize":10.5,"lineHeight":13,"baseline":"alphabetic","dx":1,"dy":34.7},
   "encoding":{"x":{"datum":"IV","type":"nominal"},"y":{"datum":43,"type":"ordinal"}}}
 ]},
{"data":{"name":"cells"},"transform":[{"filter":"datum.sp==='Mt'"}],
 "encoding":{"x":{"field":"chr","type":"nominal","axis":null,"scale":{"domain":["1","2","3","4","5","6","7","8"],"range":[144.8,276.2],"paddingInner":0.25,"paddingOuter":0.125}},
  "y":{"field":"pos","type":"ordinal","axis":null,"scale":{"domain":[1,2,3,4,5,6,7,8,9,10,11,12,13,14,15,16,17,18,19,20,21,22,23],"range":[187.5,338.6],"paddingInner":0,"paddingOuter":0}}},
 "layer":[
  {"mark":{"type":"rect"},"encoding":{"color":{"field":"blk","type":"quantitative","legend":null,"scale":{"type":"threshold","domain":[19,57,100,119,154,183],"range":["#93C5EE","#FFC000","#8DC21F","#F5A0C8","#F26522","#C6A0F2","#FBCB9F"]}}}},
  {"mark":{"type":"text","fontSize":5,"color":"#333"},"encoding":{"text":{"field":"blk"}}},
  {"transform":[{"filter":"datum.pos===1"}],"mark":{"type":"text","fontSize":8,"baseline":"middle","dy":-8.8},"encoding":{"text":{"field":"chr"}}},
  {"transform":[{"aggregate":[{"op":"count","as":"k"}]}],"mark":{"type":"rect","fill":null,"stroke":"#555","strokeWidth":1,"strokeDash":[1,1.3],"cornerRadius":20,"xOffset":-6.85,"x2Offset":2.85,"yOffset":-37.5,"y2Offset":190.4},
   "encoding":{"x":{"datum":"1","type":"nominal","bandPosition":0},"x2":{"datum":"8","bandPosition":1},"y":{"datum":1,"type":"ordinal","bandPosition":0},"y2":{"datum":23,"bandPosition":1}}},
  {"transform":[{"aggregate":[{"op":"count","as":"k"}]}],"mark":{"type":"text","text":"M. truncatula","fontSize":11,"fontStyle":"italic","baseline":"middle","dy":-26},
   "encoding":{"x":{"datum":"4","type":"nominal","bandPosition":1},"y":{"datum":1,"type":"ordinal"}}},
  {"transform":[{"aggregate":[{"op":"count","as":"k"}]}],"mark":{"type":"text","text":["n=8","~500 Mb"],"fontSize":10.5,"lineHeight":13,"baseline":"alphabetic","dy":175.4},
   "encoding":{"x":{"datum":"4","type":"nominal","bandPosition":1},"y":{"datum":23,"type":"ordinal"}}}
 ]},
{"data":{"name":"cells"},"transform":[{"filter":"datum.sp==='Lj'"}],
 "encoding":{"x":{"field":"chr","type":"nominal","axis":null,"scale":{"domain":["1","2","3","4","5","6"],"range":[291.8,402.2],"paddingInner":0.28,"paddingOuter":0.14}},
  "y":{"field":"pos","type":"ordinal","axis":null,"scale":{"domain":[1,2,3,4,5,6,7,8,9,10,11,12,13,14,15,16,17,18,19,20,21,22,23,24,25,26],"range":[190,385.8],"paddingInner":0,"paddingOuter":0}}},
 "layer":[
  {"mark":{"type":"rect"},"encoding":{"color":{"field":"blk","type":"quantitative","legend":null,"scale":{"type":"threshold","domain":[19,57,100,119,154,183],"range":["#93C5EE","#FFC000","#8DC21F","#F5A0C8","#F26522","#C6A0F2","#FBCB9F"]}}}},
  {"mark":{"type":"text","fontSize":5,"color":"#333"},"encoding":{"text":{"field":"blk"}}},
  {"transform":[{"filter":"datum.pos===1"}],"mark":{"type":"text","fontSize":8,"baseline":"middle","dy":-10.5},"encoding":{"text":{"field":"chr"}}},
  {"transform":[{"aggregate":[{"op":"count","as":"k"}]}],"mark":{"type":"rect","fill":null,"stroke":"#555","strokeWidth":1,"strokeDash":[1,1.3],"cornerRadius":20,"xOffset":-7.4,"x2Offset":7.4,"yOffset":-40,"y2Offset":143.2},
   "encoding":{"x":{"datum":"1","type":"nominal","bandPosition":0},"x2":{"datum":"6","bandPosition":1},"y":{"datum":1,"type":"ordinal","bandPosition":0},"y2":{"datum":26,"bandPosition":1}}},
  {"transform":[{"aggregate":[{"op":"count","as":"k"}]}],"mark":{"type":"text","text":"L. japonicus","fontSize":11,"fontStyle":"italic","baseline":"middle","dy":-30},
   "encoding":{"x":{"datum":"3","type":"nominal","bandPosition":1.2},"y":{"datum":1,"type":"ordinal"}}},
  {"transform":[{"aggregate":[{"op":"count","as":"k"}]}],"mark":{"type":"text","text":["n=6","~470 Mb"],"fontSize":10.5,"lineHeight":13,"baseline":"alphabetic","dy":128.7},
   "encoding":{"x":{"datum":"3","type":"nominal","bandPosition":1.2},"y":{"datum":26,"type":"ordinal"}}}
 ]},
{"data":{"name":"cells"},"transform":[{"filter":{"and":[{"field":"sp","equal":"Gm"},{"field":"chr","oneOf":["1","2","3","4","5","6","7"]}]}}],
 "encoding":{"x":{"field":"chr","type":"nominal","axis":null,"scale":{"domain":["1","2","3","4","5","6","7"],"range":[425.75,527.25],"paddingInner":0.12,"paddingOuter":0.06}},
  "y":{"field":"pos","type":"ordinal","axis":null,"scale":{"domain":[1,2,3,4,5,6,7,8,9,10,11,12],"range":[188,276.8],"paddingInner":0,"paddingOuter":0}}},
 "layer":[
  {"mark":{"type":"rect"},"encoding":{"color":{"field":"blk","type":"quantitative","legend":null,"scale":{"type":"threshold","domain":[19,57,100,119,154,183],"range":["#93C5EE","#FFC000","#8DC21F","#F5A0C8","#F26522","#C6A0F2","#FBCB9F"]}}}},
  {"mark":{"type":"text","fontSize":5,"color":"#333"},"encoding":{"text":{"field":"blk"}}},
  {"transform":[{"filter":"datum.pos===1"}],"mark":{"type":"text","fontSize":8,"baseline":"middle","dy":-9.7},"encoding":{"text":{"field":"chr"}}},
  {"transform":[{"aggregate":[{"op":"count","as":"k"}]}],"mark":{"type":"rect","fill":null,"stroke":"#555","strokeWidth":1,"strokeDash":[1,1.3],"cornerRadius":20,"xOffset":-13.6,"x2Offset":21.6,"yOffset":-38,"y2Offset":252.2},
   "encoding":{"x":{"datum":"1","type":"nominal","bandPosition":0},"x2":{"datum":"7","bandPosition":1},"y":{"datum":1,"type":"ordinal","bandPosition":0},"y2":{"datum":12,"bandPosition":1}}},
  {"transform":[{"aggregate":[{"op":"count","as":"k"}]}],"mark":{"type":"text","text":"G. max","fontSize":11,"fontStyle":"italic","baseline":"middle","dx":-1.5,"dy":-28.7},
   "encoding":{"x":{"datum":"4","type":"nominal"},"y":{"datum":1,"type":"ordinal"}}},
  {"transform":[{"aggregate":[{"op":"count","as":"k"}]}],"mark":{"type":"text","text":["n=20","~1100 Mb"],"fontSize":10.5,"lineHeight":13,"baseline":"alphabetic","dx":-3.5,"dy":237.6},
   "encoding":{"x":{"datum":"4","type":"nominal"},"y":{"datum":12,"type":"ordinal"}}}
 ]},
{"data":{"name":"cells"},"transform":[{"filter":{"and":[{"field":"sp","equal":"Gm"},{"field":"chr","oneOf":["8","9","10","11","12","13","14"]}]}}],
 "encoding":{"x":{"field":"chr","type":"nominal","axis":null,"scale":{"domain":["8","9","10","11","12","13","14"],"range":[420.1,530.9],"paddingInner":0.18,"paddingOuter":0.09}},
  "y":{"field":"pos","type":"ordinal","axis":null,"scale":{"domain":[1,2,3,4,5,6,7,8,9,10,11,12,13],"range":[290,390.1],"paddingInner":0,"paddingOuter":0}}},
 "layer":[
  {"mark":{"type":"rect"},"encoding":{"color":{"field":"blk","type":"quantitative","legend":null,"scale":{"type":"threshold","domain":[19,57,100,119,154,183],"range":["#93C5EE","#FFC000","#8DC21F","#F5A0C8","#F26522","#C6A0F2","#FBCB9F"]}}}},
  {"mark":{"type":"text","fontSize":5,"color":"#333"},"encoding":{"text":{"field":"blk"}}},
  {"transform":[{"filter":"datum.pos===1"}],"mark":{"type":"text","fontSize":8,"baseline":"middle","dy":-8.9},"encoding":{"text":{"field":"chr"}}}
 ]},
{"data":{"name":"cells"},"transform":[{"filter":{"and":[{"field":"sp","equal":"Gm"},{"field":"chr","oneOf":["15","16","17","18","19","20"]}]}}],
 "encoding":{"x":{"field":"chr","type":"nominal","axis":null,"scale":{"domain":["15","16","17","18","19","20"],"range":[432.7,520.3],"paddingInner":0.14,"paddingOuter":0.07}},
  "y":{"field":"pos","type":"ordinal","axis":null,"scale":{"domain":[1,2,3,4,5,6,7,8,9,10,11,12,13,14],"range":[408,511.6],"paddingInner":0,"paddingOuter":0}}},
 "layer":[
  {"mark":{"type":"rect"},"encoding":{"color":{"field":"blk","type":"quantitative","legend":null,"scale":{"type":"threshold","domain":[19,57,100,119,154,183],"range":["#93C5EE","#FFC000","#8DC21F","#F5A0C8","#F26522","#C6A0F2","#FBCB9F"]}}}},
  {"mark":{"type":"text","fontSize":5,"color":"#333"},"encoding":{"text":{"field":"blk"}}},
  {"transform":[{"filter":"datum.pos===1"}],"mark":{"type":"text","fontSize":8,"baseline":"middle","dy":-10.7},"encoding":{"text":{"field":"chr"}}}
 ]},
{"data":{"name":"cells"},"transform":[{"filter":{"and":[{"field":"sp","equal":"Pt"},{"field":"chr","oneOf":["1","2","3","4","5","6"]}]}}],
 "encoding":{"x":{"field":"chr","type":"nominal","axis":null,"scale":{"domain":["1","2","3","4","5","6"],"range":[558.9,656.1],"paddingInner":0.13,"paddingOuter":0.065}},
  "y":{"field":"pos","type":"ordinal","axis":null,"scale":{"domain":[1,2,3,4,5,6,7,8,9,10,11,12],"range":[187,277],"paddingInner":0,"paddingOuter":0}}},
 "layer":[
  {"mark":{"type":"rect"},"encoding":{"color":{"field":"blk","type":"quantitative","legend":null,"scale":{"type":"threshold","domain":[19,57,100,119,154,183],"range":["#93C5EE","#FFC000","#8DC21F","#F5A0C8","#F26522","#C6A0F2","#FBCB9F"]}}}},
  {"mark":{"type":"text","fontSize":5,"color":"#333"},"encoding":{"text":{"field":"blk"}}},
  {"transform":[{"filter":"datum.pos===1"}],"mark":{"type":"text","fontSize":8,"baseline":"middle","dy":-8.75},"encoding":{"text":{"field":"chr"}}},
  {"transform":[{"aggregate":[{"op":"count","as":"k"}]}],"mark":{"type":"rect","fill":null,"stroke":"#555","strokeWidth":1,"strokeDash":[1,1.3],"cornerRadius":20,"xOffset":-4.95,"x2Offset":12,"yOffset":-37,"y2Offset":252},
   "encoding":{"x":{"datum":"1","type":"nominal","bandPosition":0},"x2":{"datum":"6","bandPosition":1},"y":{"datum":1,"type":"ordinal","bandPosition":0},"y2":{"datum":12,"bandPosition":1}}},
  {"transform":[{"aggregate":[{"op":"count","as":"k"}]}],"mark":{"type":"text","text":"P. trichocarpa","fontSize":11,"fontStyle":"italic","baseline":"middle","dy":-28.75},
   "encoding":{"x":{"datum":"3","type":"nominal","bandPosition":1.2},"y":{"datum":1,"type":"ordinal"}}},
  {"transform":[{"aggregate":[{"op":"count","as":"k"}]}],"mark":{"type":"text","text":["n=19","~400 Mb"],"fontSize":10.5,"lineHeight":13,"baseline":"alphabetic","dx":-1,"dy":237.5},
   "encoding":{"x":{"datum":"3","type":"nominal","bandPosition":1.2},"y":{"datum":12,"type":"ordinal"}}}
 ]},
{"data":{"name":"cells"},"transform":[{"filter":{"and":[{"field":"sp","equal":"Pt"},{"field":"chr","oneOf":["7","8","9","10","11","12"]}]}}],
 "encoding":{"x":{"field":"chr","type":"nominal","axis":null,"scale":{"domain":["7","8","9","10","11","12"],"range":[558.9,656.1],"paddingInner":0.13,"paddingOuter":0.065}},
  "y":{"field":"pos","type":"ordinal","axis":null,"scale":{"domain":[1,2,3,4,5,6],"range":[290,335],"paddingInner":0,"paddingOuter":0}}},
 "layer":[
  {"mark":{"type":"rect"},"encoding":{"color":{"field":"blk","type":"quantitative","legend":null,"scale":{"type":"threshold","domain":[19,57,100,119,154,183],"range":["#93C5EE","#FFC000","#8DC21F","#F5A0C8","#F26522","#C6A0F2","#FBCB9F"]}}}},
  {"mark":{"type":"text","fontSize":5,"color":"#333"},"encoding":{"text":{"field":"blk"}}},
  {"transform":[{"filter":"datum.pos===1"}],"mark":{"type":"text","fontSize":8,"baseline":"middle","dy":-8.75},"encoding":{"text":{"field":"chr"}}}
 ]},
{"data":{"name":"cells"},"transform":[{"filter":{"and":[{"field":"sp","equal":"Pt"},{"field":"chr","oneOf":["13","14","15","16","17","18"]}]}}],
 "encoding":{"x":{"field":"chr","type":"nominal","axis":null,"scale":{"domain":["13","14","15","16","17","18"],"range":[558.4,661.6],"paddingInner":0.18,"paddingOuter":0.09}},
  "y":{"field":"pos","type":"ordinal","axis":null,"scale":{"domain":[1,2,3,4,5,6],"range":[361,406],"paddingInner":0,"paddingOuter":0}}},
 "layer":[
  {"mark":{"type":"rect"},"encoding":{"color":{"field":"blk","type":"quantitative","legend":null,"scale":{"type":"threshold","domain":[19,57,100,119,154,183],"range":["#93C5EE","#FFC000","#8DC21F","#F5A0C8","#F26522","#C6A0F2","#FBCB9F"]}}}},
  {"mark":{"type":"text","fontSize":5,"color":"#333"},"encoding":{"text":{"field":"blk"}}},
  {"transform":[{"filter":"datum.pos===1"}],"mark":{"type":"text","fontSize":8,"baseline":"middle","dy":-11.75},"encoding":{"text":{"field":"chr"}}}
 ]},
{"data":{"name":"cells"},"transform":[{"filter":{"and":[{"field":"sp","equal":"Pt"},{"field":"chr","oneOf":["19","22","25"]}]}}],
 "encoding":{"x":{"field":"chr","type":"nominal","axis":null,"scale":{"domain":["19","22","25"],"range":[563.75,619.25],"paddingInner":0.22,"paddingOuter":0.11}},
  "y":{"field":"pos","type":"ordinal","axis":null,"scale":{"domain":[1,2,3],"range":[451,474.4],"paddingInner":0,"paddingOuter":0}}},
 "layer":[
  {"mark":{"type":"rect"},"encoding":{"color":{"field":"blk","type":"quantitative","legend":null,"scale":{"type":"threshold","domain":[19,57,100,119,154,183],"range":["#93C5EE","#FFC000","#8DC21F","#F5A0C8","#F26522","#C6A0F2","#FBCB9F"]}}}},
  {"mark":{"type":"text","fontSize":5,"color":"#333"},"encoding":{"text":{"field":"blk"}}},
  {"transform":[{"filter":"datum.pos===1"}],"mark":{"type":"text","fontSize":8,"baseline":"middle","dy":-11.9},"encoding":{"text":{"field":"chr"}}}
 ]}
],
"resolve":{"scale":{"x":"independent","y":"independent"}}
}
